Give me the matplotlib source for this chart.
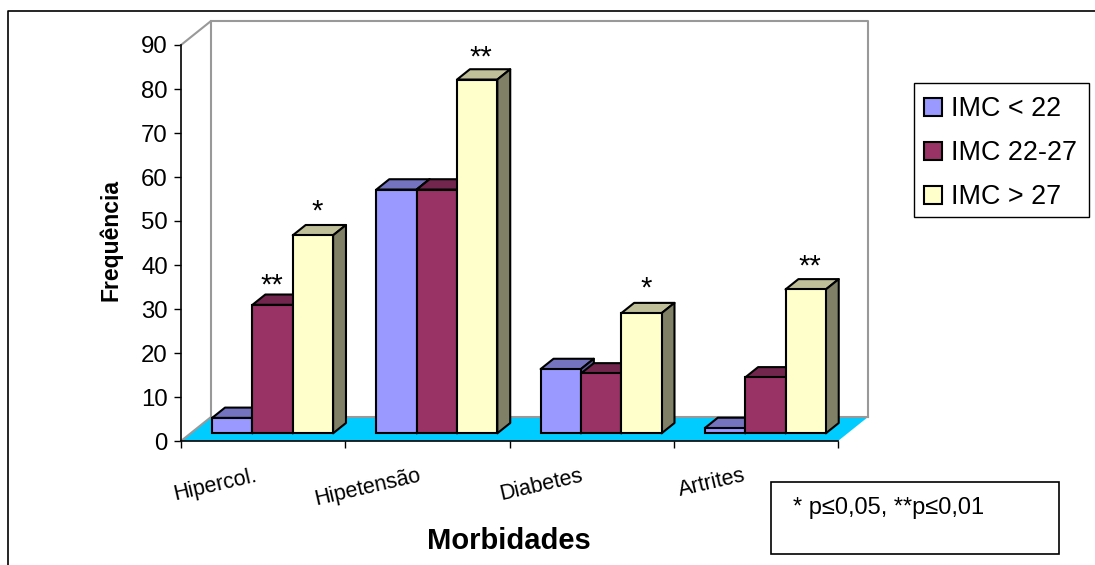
import matplotlib
matplotlib.use('Agg')
import matplotlib.pyplot as plt
from matplotlib.lines import Line2D
from matplotlib.patches import Patch, Rectangle

plt.rcParams['font.family'] = ['Liberation Sans', 'DejaVu Sans']

W, H = 1095, 565

# Data
categories = ['Hipercol.', 'Hipetensão', 'Diabetes', 'Artrites']
series_names = ['IMC < 22', 'IMC 22-27', 'IMC > 27']
imc_low = [3.5, 55.4, 14.6, 1.2]
imc_mid = [29.2, 55.4, 13.6, 12.7]
imc_high = [45.0, 80.4, 27.3, 32.7]
series_values = [imc_low, imc_mid, imc_high]
# (category, series, label)
stars = [(0, 1, '**'), (0, 2, '*'), (1, 2, '**'), (2, 2, '*'), (3, 2, '**')]

front_colors = ['#9999FF', '#993366', '#FFFFCC']
top_colors = ['#7373BF', '#73264D', '#BFBF99']
side_colors = ['#5C5C99', '#5C1F3D', '#808066']

fig = plt.figure(figsize=(W / 100, H / 100), dpi=100)
# plot area: front edge of the floor and the left wall
ax = fig.add_axes([181 / W, 1 - 441 / H, (838 - 181) / W, (441 - 45) / H])
ax.set_xlim(0, 4)
ax.set_ylim(0, 90)
ax.patch.set_visible(False)

# depth of the 3D box, in data units
depth_x = 30 / 164.25
depth_y = 24 / 4.4
grey = '#999999'


def proj(x, y, d):
    return x + d * depth_x, y + d * depth_y


# floor and walls
corners = [proj(0, 0, 0), proj(4, 0, 0), proj(4, 0, 1), proj(0, 0, 1)]
ax.fill(*zip(*corners), color='#00CCFF', lw=0, zorder=1, clip_on=False)
wall_x = [proj(0, 0, 0)[0], proj(0, 0, 1)[0], proj(4, 0, 1)[0]]
wall_y = [0, depth_y, depth_y]
ax.plot(wall_x, wall_y, color=grey, lw=1.5, zorder=2, clip_on=False)
ax.plot([0, depth_x, depth_x], [90, 90 + depth_y, depth_y], color=grey, lw=1.5, zorder=2, clip_on=False)
ax.plot([depth_x, 4 + depth_x, 4 + depth_x], [90 + depth_y, 90 + depth_y, depth_y],
        color=grey, lw=1.5, zorder=2, clip_on=False)

# bars
bar_w = 0.2455
gap_start = 0.131
d_front = 0.32
d_back = 0.75
z = 3
for i in range(len(categories)):
    for j, values in enumerate(series_values):
        x0 = i + gap_start + j * bar_w
        x1 = x0 + bar_w
        v = values[i]
        base = d_front * depth_y
        fx0 = x0 + d_front * depth_x
        fx1 = x1 + d_front * depth_x
        dx = (d_back - d_front) * depth_x
        dy = (d_back - d_front) * depth_y
        ax.fill([fx0, fx1, fx1 + dx, fx0 + dx], [base + v, base + v, base + v + dy, base + v + dy],
                facecolor=top_colors[j], edgecolor='black', lw=1.5, zorder=z, clip_on=False,
                joinstyle='round')
        ax.fill([fx1, fx1 + dx, fx1 + dx, fx1], [base, base + dy, base + v + dy, base + v],
                facecolor=side_colors[j], edgecolor='black', lw=1.5, zorder=z, clip_on=False,
                joinstyle='round')
        ax.bar(fx0, v, width=bar_w, bottom=base, align='edge', color=front_colors[j],
               edgecolor='black', lw=1.5, zorder=z + 0.5, clip_on=False)
        z += 1

# the stars were placed by hand in the original, so each has its own nudge (points)
star_nudge = [(-0.5, 14), (3, 17), (3, 15.5), (3.5, 17.5), (3, 16.5)]
for (i, j, label), nudge in zip(stars, star_nudge):
    x0 = i + gap_start + (j + 0.5) * bar_w + d_front * depth_x
    ax.annotate(label, (x0, d_front * depth_y + series_values[j][i]), xytext=nudge,
                textcoords='offset points', ha='center', va='center', fontsize=21, zorder=50)

# axes
for side in ['top', 'right']:
    ax.spines[side].set_visible(False)
ax.spines['left'].set_linewidth(1.2)
ax.spines['bottom'].set_linewidth(1.2)
ax.spines['left'].set_zorder(40)
ax.spines['bottom'].set_zorder(40)
ax.set_yticks(range(0, 91, 10))
ax.set_xticks(range(5))
ax.set_xticklabels([])
ax.tick_params(axis='y', length=5, width=1, labelsize=17.3, pad=4.5)
ax.tick_params(axis='x', length=5, width=1)
ax.set_ylabel('Frequência', fontsize=16.5, fontweight='bold')
ax.yaxis.set_label_coords(-59 / 657, 0.5 + 3 / 396)

label_nudge = [-6.5, -7, -8, -9.5]
for i, name in enumerate(categories):
    ax.annotate(name, (i + 0.5, 0), xytext=(label_nudge[i], -17.5), textcoords='offset points',
                ha='right', va='top', rotation=13, rotation_mode='anchor', fontsize=15.5)

fig.text(509 / W, 1 - 541 / H, 'Morbidades', fontsize=21, fontweight='bold',
         ha='center', va='center')

# legend, its frame is separate because the rows sit low in the box
fig.add_artist(Rectangle((914 / W, 1 - 217 / H), 174.5 / W, 134 / H, transform=fig.transFigure,
                         facecolor='white', edgecolor='black', lw=1))
handles = [Patch(facecolor=c, edgecolor='black', lw=1.5) for c in front_colors]
leg = fig.legend(handles, series_names, loc='upper left',
                 bbox_to_anchor=(914 / W, 1 - 86 / H), bbox_transform=fig.transFigure,
                 borderaxespad=0, fontsize=19.4, frameon=False,
                 handlelength=0.67, handleheight=0.67, handletextpad=0.33, labelspacing=0.67,
                 borderpad=0.38)

# note box
fig.add_artist(Rectangle((771 / W, 1 - 554 / H), 288 / W, 72 / H, transform=fig.transFigure,
                         facecolor='white', edgecolor='black', lw=1.2))
fig.text(793 / W, 1 - 508 / H, '* p≤0,05, **p≤0,01', fontsize=17, ha='left', va='center')

# outer chart border, cropped at the right and bottom
fig.add_artist(Line2D([8 / W, 8 / W, 1], [0, 1 - 11 / H, 1 - 11 / H], transform=fig.transFigure,
                      color='black', lw=1.2))

fig.savefig('out.png', dpi=100)
